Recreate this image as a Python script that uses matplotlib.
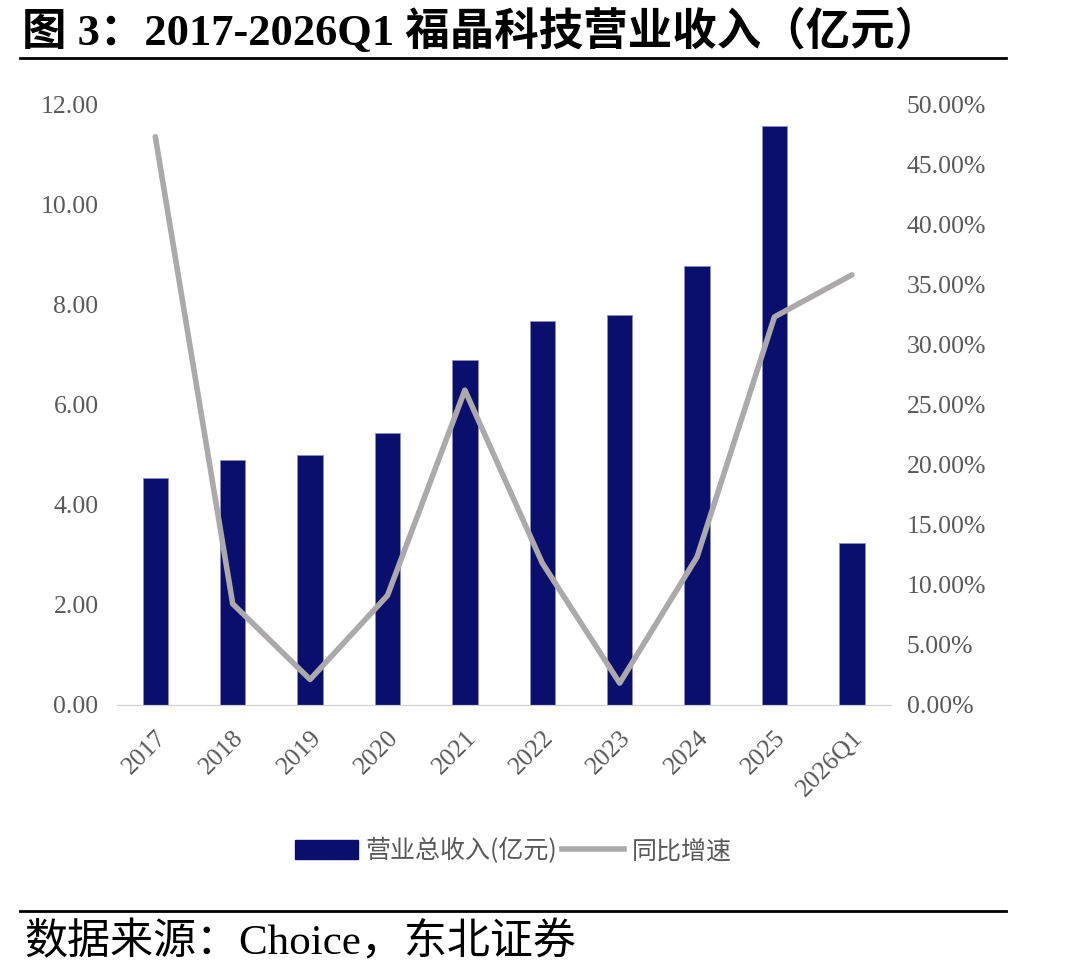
import matplotlib.pyplot as plt
import numpy as np
from matplotlib.lines import Line2D

# ─── Data ──────────────────────────────────────────────────────────────────────
years   = ["2017", "2018", "2019", "2020", "2021", "2022", "2023", "2024", "2025", "2026Q1"]
revenue = [4.54, 4.90, 5.00, 5.44, 6.90, 7.68, 7.80, 8.76, 11.56, 3.24]        # 亿元
growth  = [47.3, 8.4, 2.1, 9.1, 26.2, 11.8, 1.8, 12.3, 32.3, 35.8]              # %

bar_color  = "#0A0F6E"
line_color = "#ABA9A9"
tick_color = "#595959"
serif_cjk  = ["Liberation Serif", "Noto Sans CJK SC"]

plt.rcParams['font.family'] = serif_cjk

# ─── Figure ────────────────────────────────────────────────────────────────────
fig = plt.figure(figsize=(10.9, 9.76), dpi=100)
ax = fig.add_axes([0.107, 0.278, 0.710, 0.615])
ax2 = ax.twinx()

x = np.arange(len(years))
ax.bar(x, revenue, width=0.33, color=bar_color, edgecolor="#8C8FC0", linewidth=0.6, zorder=2)
ax2.plot(x, growth, color=line_color, linewidth=4, solid_capstyle="round", zorder=3)

ax.set_xlim(-0.5, len(years) - 0.5)
ax.set_ylim(0, 12)
ax.set_yticks(np.arange(0, 12.1, 2))
ax.set_yticklabels([f"{v:.2f}" for v in np.arange(0, 12.1, 2)])
ax2.set_ylim(0, 50)
ax2.set_yticks(np.arange(0, 50.1, 5))
ax2.set_yticklabels([f"{v:.2f}%" for v in np.arange(0, 50.1, 5)])

ax.set_xticks(x)
ax.set_xticklabels(years, rotation=45, ha="right", va="top", rotation_mode="anchor")

for a in (ax, ax2):
    for s in ("top", "left", "right"):
        a.spines[s].set_visible(False)
    a.spines["bottom"].set_color("#D0D0D0")
    a.tick_params(axis="both", length=0, labelsize=18.5, labelcolor=tick_color)
ax.tick_params(axis="y", pad=13)
ax2.tick_params(axis="y", pad=11.5)
ax.tick_params(axis="x", pad=16)

# ─── Legend ────────────────────────────────────────────────────────────────────
handles = [plt.Rectangle((0, 0), 1, 1, color=bar_color),
           Line2D([0], [0], color=line_color, linewidth=4)]
fig.legend(handles, ["营业总收入(亿元)", "同比增速"], loc="center",
           bbox_to_anchor=(0.471, 0.128), ncol=2, frameon=False,
           prop={"family": ["Noto Sans CJK SC"], "size": 18},
           handlelength=2.5, handleheight=0.8, columnspacing=0.2, handletextpad=0.3,
           labelcolor=tick_color)

# ─── Title, rules, source ──────────────────────────────────────────────────────
fig.text(0.02, 0.968, "图 3：2017-2026Q1 福晶科技营业收入（亿元）", fontsize=32,
         weight="bold", ha="left", va="center")
fig.add_artist(Line2D([0.018, 0.923], [0.941, 0.941], color="black", linewidth=2))
fig.add_artist(Line2D([0.018, 0.923], [0.0665, 0.0665], color="black", linewidth=2))
fig.text(0.022, 0.034, "数据来源：Choice，东北证券", fontsize=31,
         ha="left", va="center")

plt.savefig("out.png", dpi=100)
